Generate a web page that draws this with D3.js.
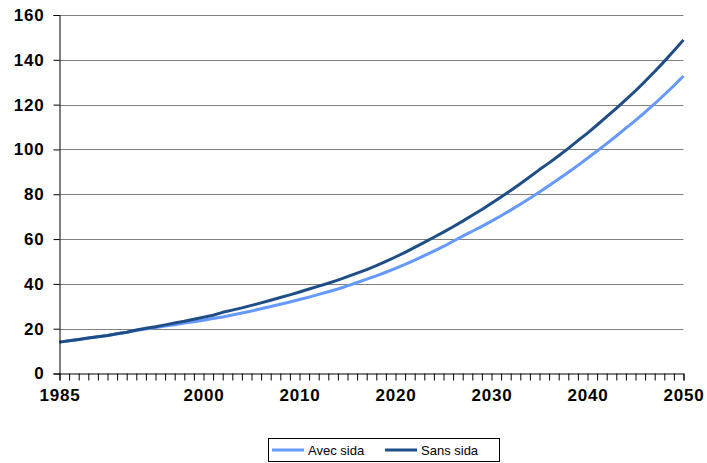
<!DOCTYPE html>
<html>
<head>
<meta charset="utf-8">
<script src="https://cdn.jsdelivr.net/npm/d3@7"></script>
<style>
  html, body { margin: 0; padding: 0; background: #fff; }
  svg { display: block; font-family: Arial, "Liberation Sans", sans-serif; }
</style>
</head>
<body>
<svg id="chart" width="707" height="463"></svg>
<script>
// Years 1985–2050
const years = d3.range(1985, 2051);

// Avec sida
const avecSida = [
  14.0, 14.6, 15.2, 15.8, 16.4, 17.0, 17.7, 18.4, 19.2, 19.9,
  20.5, 21.2, 21.8, 22.5, 23.1, 23.8, 24.5, 25.2, 26.1, 27.0,
  27.9, 28.9, 29.9, 30.9, 31.9, 33.0, 34.1, 35.3, 36.5, 37.7,
  39.1, 40.6, 42.1, 43.6, 45.2, 46.9, 48.7, 50.6, 52.6, 54.6,
  56.7, 59.0, 61.3, 63.5, 65.7, 68.0, 70.4, 72.9, 75.5, 78.2,
  81.0, 83.9, 86.8, 89.8, 92.9, 96.1, 99.3, 102.6, 106.0, 109.5,
  113.0, 116.6, 120.4, 124.4, 128.5, 132.8
];

// Sans sida
const sansSida = [
  14.0, 14.6, 15.2, 15.8, 16.4, 17.0, 17.7, 18.4, 19.4, 20.2,
  20.9, 21.7, 22.5, 23.3, 24.2, 25.1, 26.0, 27.3, 28.3, 29.3,
  30.4, 31.5, 32.7, 33.9, 35.1, 36.4, 37.7, 39.0, 40.3, 41.7,
  43.2, 44.8, 46.4, 48.1, 50.0, 52.0, 54.1, 56.3, 58.5, 60.8,
  63.1, 65.5, 68.0, 70.6, 73.2, 76.0, 78.8, 81.7, 84.7, 87.8,
  91.0, 94.0, 97.2, 100.5, 103.9, 107.3, 110.9, 114.6, 118.3, 122.2,
  126.2, 130.4, 134.8, 139.3, 144.0, 148.9
];

const yTicks = [0, 20, 40, 60, 80, 100, 120, 140, 160];
const xLabelYears = [1985, 2000, 2010, 2020, 2030, 2040, 2050];

const seriesNames = ["Avec sida", "Sans sida"];
const seriesColors = ["#6699ff", "#1f4e86"];

const svg = d3.select("#chart");
const plot = { left: 59.5, right: 683.5, top: 15, bottom: 373.5 };

const x = d3.scaleLinear().domain([1985, 2050]).range([plot.left, plot.right]);
const y = d3.scaleLinear().domain([0, 160]).range([plot.bottom, plot.top]);

// Horizontal gridlines
svg.append("g")
  .selectAll("line")
  .data(yTicks.filter(d => d > 0))
  .join("line")
  .attr("x1", plot.left).attr("x2", plot.right)
  .attr("y1", d => Math.round(y(d)) + 0.5)
  .attr("y2", d => Math.round(y(d)) + 0.5)
  .attr("stroke", "#808080")
  .attr("stroke-width", 1);

// Series lines
const line = d3.line()
  .x((d, i) => x(years[i]))
  .y(d => y(d));

[avecSida, sansSida].forEach((vals, k) => {
  svg.append("path")
    .datum(vals)
    .attr("d", line)
    .attr("fill", "none")
    .attr("stroke", seriesColors[k])
    .attr("stroke-width", 3)
    .attr("stroke-linejoin", "round");
});

const styleTickText = sel => sel
  .attr("font-size", 17).attr("font-weight", "bold")
  .attr("letter-spacing", 0.8)
  .attr("font-family", "Arial, 'Liberation Sans', sans-serif")
  .attr("fill", "#000");

// Y axis
const yAxis = d3.axisLeft(y).tickValues(yTicks).tickSize(6).tickPadding(9)
  .tickFormat(d3.format("d"));
const gy = svg.append("g").attr("transform", `translate(${plot.left},0)`).call(yAxis);
gy.select(".domain").attr("stroke", "#000");
gy.selectAll(".tick line").attr("stroke", "#000");
gy.selectAll(".tick text").call(styleTickText);

// X axis: a tick every year, labels on selected years
const xAxis = d3.axisBottom(x).tickValues(years).tickSize(7).tickPadding(8)
  .tickFormat(d => xLabelYears.includes(d) ? String(d) : "");
const gx = svg.append("g").attr("transform", `translate(0,${plot.bottom})`).call(xAxis);
gx.select(".domain").attr("stroke", "#000");
gx.selectAll(".tick line").attr("stroke", "#000");
gx.selectAll(".tick text").call(styleTickText);

// Legend
const lg = svg.append("g");
lg.append("rect")
  .attr("x", 268.5).attr("y", 438.5).attr("width", 231).attr("height", 23)
  .attr("fill", "#fff").attr("stroke", "#000").attr("stroke-width", 1);
const legendX = [272, 385];
seriesNames.forEach((name, k) => {
  lg.append("line")
    .attr("x1", legendX[k]).attr("x2", legendX[k] + 32)
    .attr("y1", 450).attr("y2", 450)
    .attr("stroke", seriesColors[k]).attr("stroke-width", 3);
  lg.append("text")
    .attr("x", legendX[k] + 36).attr("y", 454.5)
    .attr("font-size", 13)
    .attr("fill", "#000")
    .text(name);
});
</script>
</body>
</html>
